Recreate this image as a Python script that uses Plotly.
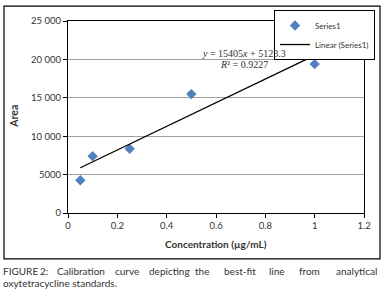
import plotly.graph_objects as go

# Data
concentration = [0.05, 0.1, 0.25, 0.5, 1.0]
area = [4270, 7400, 8350, 15480, 19390]
slope = 15405
intercept = 5123.3
r_squared = 0.9227
fit_x = [min(concentration), max(concentration)]
fit_y = [slope * v + intercept for v in fit_x]

y_tickvals = [0, 5000, 10000, 15000, 20000, 25000]
y_ticktext = ["0", "5000", "10 000", "15 000", "20 000", "25 000"]
x_tickvals = [0, 0.2, 0.4, 0.6, 0.8, 1, 1.2]
x_ticktext = ["0", "0.2", "0.4", "0.6", "0.8", "1", "1.2"]

W, H = 383, 296
L, R, T, B = 68, 364, 21, 213.5


def px(x):
    return (x - L) / (R - L)


def py(y):
    return (B - y) / (B - T)


FONT = "Lato, 'Open Sans', sans-serif"
TXT = "#333333"

fig = go.Figure()
fig.add_trace(go.Scatter(
    x=concentration, y=area, mode="markers", name="Series1",
    marker=dict(symbol="diamond", size=8, color="#4F81BD"),
))
fig.add_trace(go.Scatter(
    x=fit_x, y=fit_y, mode="lines", name="Linear (Series1)",
    line=dict(color="black", width=1.3),
))

fig.update_layout(
    width=W, height=H,
    margin=dict(l=L, r=W - R, t=T, b=H - B, pad=0, autoexpand=False),
    paper_bgcolor="white", plot_bgcolor="white",
    font=dict(family=FONT, size=9, color=TXT),
    showlegend=True,
    legend=dict(
        x=px(375), y=py(10), xanchor="right", yanchor="top",
        bgcolor="white", bordercolor="black", borderwidth=1,
        font=dict(size=8, color=TXT, family=FONT),
        tracegroupgap=0, itemwidth=30,
    ),
    xaxis=dict(
        range=[0, 1.2], tickvals=x_tickvals, ticktext=x_ticktext,
        showgrid=False, zeroline=False,
        showline=True, linecolor="black", linewidth=1, mirror=True,
        ticks="outside", ticklen=4, tickcolor="black",
        tickfont=dict(size=9.5, color=TXT),
    ),
    yaxis=dict(
        range=[0, 25000], tickvals=y_tickvals, ticktext=y_ticktext,
        showgrid=True, gridcolor="#A0A0A0", gridwidth=1, zeroline=False,
        showline=True, linecolor="black", linewidth=1, mirror=True,
        ticks="outside", ticklen=4, tickcolor="black",
        tickfont=dict(size=9.5, color=TXT),
    ),
)

# outer chart border
fig.add_shape(type="rect", xref="paper", yref="paper",
              x0=px(4), x1=px(380), y0=py(259.5), y1=py(6),
              line=dict(color="black", width=1.2), fillcolor="rgba(0,0,0,0)",
              layer="above")

ann = []
# axis titles
ann.append(dict(text="<b>Area</b>", x=px(14), y=py(117), textangle=-90,
                font=dict(size=10.5, color=TXT, family=FONT)))
ann.append(dict(text="<b>Concentration (µg/mL)</b>", x=px(216), y=py(245),
                font=dict(size=10, color=TXT, family=FONT)))
# equation
ann.append(dict(text=f"<i>y</i> = {slope}<i>x</i> + {intercept}", x=px(244), y=py(54),
                font=dict(size=10, color=TXT, family="'Liberation Serif', serif")))
ann.append(dict(text=f"<i>R</i>² = {r_squared}", x=px(244), y=py(65),
                font=dict(size=10, color=TXT, family="'Liberation Serif', serif")))

# caption (justified first line)
cap_words = ["FIGURE", "2:", "Calibration", "curve", "depicting", "the",
             "best-fit", "line", "from", "analytical"]
cap_x = [1, 38, 55, 113, 147, 193, 222, 267, 297, 334]
for w, xx in zip(cap_words, cap_x):
    ann.append(dict(text=w, x=px(xx), y=py(272), xanchor="left",
                    font=dict(size=10, color=TXT, family=FONT)))
ann.append(dict(text="oxytetracycline standards.", x=px(1), y=py(284), xanchor="left",
                font=dict(size=10, color=TXT, family=FONT)))

for a in ann:
    a.setdefault("xanchor", "center")
    a.update(xref="paper", yref="paper", showarrow=False, yanchor="middle")
    fig.add_annotation(**a)

fig.write_html("out.html", config={"displayModeBar": False},
               post_script="document.body.style.margin='0';")
